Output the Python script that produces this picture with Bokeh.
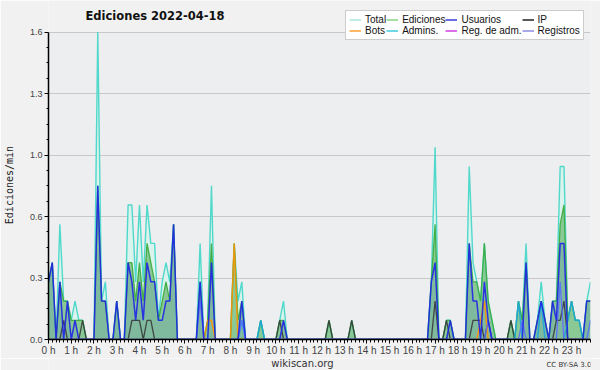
import math
from bokeh.plotting import figure
from bokeh.layouts import column
from bokeh.models import (ColumnDataSource, Range1d, FixedTicker, Legend, LegendItem,
                          Label, PrintfTickFormatter, BoxAnnotation)
from bokeh.embed import file_html
from bokeh.resources import INLINE

# ---------------- data (edits per minute, 10-minute bins, 2022-04-18) ----------------
title_text = "Ediciones  2022-04-18"
y_label = "Ediciones/min"
source_text = "wikiscan.org"
license_text = "CC BY-SA 3.0"
series_names = ["Total", "Ediciones", "Usuarios", "IP", "Bots", "Admins.", "Reg. de adm.", "Registros"]
hour_labels = ["0 h", "1 h", "2 h", "3 h", "4 h", "5 h", "6 h", "7 h", "8 h", "9 h", "10 h", "11 h",
               "12 h", "13 h", "14 h", "15 h", "16 h", "17 h", "18 h", "19 h", "20 h", "21 h", "22 h", "23 h"]
hour_ticks = list(range(24))
y_ticks = [0.0, 0.32, 0.64, 0.96, 1.28, 1.6]
y_minor = [0.08, 0.16, 0.24, 0.40, 0.48, 0.56, 0.72, 0.80, 0.88, 1.04, 1.12, 1.20, 1.36, 1.44, 1.52]
y_max = 1.6
bin_hours = [i / 6 for i in range(144)]  # start of each 10-minute bin, in hours

total = [
    .3, .4, 0, .6, .2, .2, .1, .2, .1, .1, 0, 0,
    0, 1.6, .2, .3, 0, 0, .2, 0, 0, .7, .7, .3,
    .7, .3, .7, .5, .5, .1, .3, .4, .3, .6, 0, 0,
    0, 0, 0, 0, .5, 0, .1, .8, 0, 0, 0, 0,
    0, .5, .2, .3, 0, 0, 0, 0, .1, 0, 0, 0,
    0, .1, .2, 0, 0, 0, 0, 0, 0, 0, 0, 0,
    0, 0, .1, 0, 0, 0, 0, 0, .1, 0, 0, 0,
    0, 0, 0, 0, 0, 0, 0, 0, 0, 0, 0, 0,
    0, 0, 0, 0, 0, .3, 1.0, 0, 0, .1, .1, 0,
    0, 0, 0, .9, .4, .3, .2, .5, .2, .1, 0, 0,
    0, 0, .1, 0, .2, .1, .5, 0, 0, .1, .3, .1,
    0, .2, .2, .9, .9, .1, .2, .1, .1, 0, .2, .3,
]
ediciones = [
    .3, .4, 0, .3, .2, .2, .1, .1, .1, .1, 0, 0,
    0, .8, .2, .2, 0, 0, .2, 0, 0, .4, .4, .2,
    .4, .2, .5, .4, .3, .1, .2, .3, .2, .6, 0, 0,
    0, 0, 0, 0, .3, 0, .1, .5, 0, 0, 0, 0,
    0, .5, .1, .2, 0, 0, 0, 0, .1, 0, 0, 0,
    0, .1, .1, 0, 0, 0, 0, 0, 0, 0, 0, 0,
    0, 0, .1, 0, 0, 0, 0, 0, .1, 0, 0, 0,
    0, 0, 0, 0, 0, 0, 0, 0, 0, 0, 0, 0,
    0, 0, 0, 0, 0, .3, .6, 0, 0, .1, .1, 0,
    0, 0, 0, .5, .3, .3, .2, .5, .2, .1, 0, 0,
    0, 0, .1, 0, .2, .1, .4, 0, 0, .1, .2, .1,
    0, .2, .2, .6, .7, .1, .2, .1, .1, 0, .2, .2,
]
usuarios = [
    .3, .4, 0, .3, 0, .2, 0, .1, 0, 0, 0, 0,
    0, .8, .2, .2, 0, 0, .2, 0, 0, .4, .3, .1,
    .3, .1, .4, .3, .3, .1, .1, .2, .2, .6, 0, 0,
    0, 0, 0, 0, .3, 0, 0, .4, 0, 0, 0, 0,
    0, 0, 0, .2, 0, 0, 0, 0, 0, 0, 0, 0,
    0, 0, .1, 0, 0, 0, 0, 0, 0, 0, 0, 0,
    0, 0, 0, 0, 0, 0, 0, 0, 0, 0, 0, 0,
    0, 0, 0, 0, 0, 0, 0, 0, 0, 0, 0, 0,
    0, 0, 0, 0, 0, .3, .4, 0, 0, 0, .1, 0,
    0, 0, 0, .5, .2, .2, 0, .3, .1, 0, 0, 0,
    0, 0, 0, 0, 0, 0, .4, 0, 0, .1, .2, .1,
    0, .2, .1, .5, .5, 0, 0, 0, 0, 0, .2, .2,
]
ip = [
    0, 0, 0, 0, .1, 0, 0, 0, 0, .1, 0, 0,
    0, 0, 0, 0, 0, 0, 0, 0, 0, 0, .1, .1,
    .1, 0, .1, .1, 0, 0, 0, 0, 0, 0, 0, 0,
    0, 0, 0, 0, 0, 0, 0, 0, 0, 0, 0, 0,
    0, 0, 0, 0, 0, 0, 0, 0, 0, 0, 0, 0,
    0, .1, 0, 0, 0, 0, 0, 0, 0, 0, 0, 0,
    0, 0, .1, 0, 0, 0, 0, 0, .1, 0, 0, 0,
    0, 0, 0, 0, 0, 0, 0, 0, 0, 0, 0, 0,
    0, 0, 0, 0, 0, 0, .2, 0, 0, .1, 0, 0,
    0, 0, 0, 0, .1, .1, .1, 0, .1, 0, 0, 0,
    0, 0, .1, 0, 0, 0, 0, 0, 0, 0, 0, 0,
    0, 0, .1, .1, .2, 0, 0, 0, 0, 0, 0, 0,
]
bots = [
    0, 0, 0, 0, 0, 0, 0, 0, 0, 0, 0, 0,
    0, 0, 0, 0, 0, 0, 0, 0, 0, 0, 0, 0,
    0, 0, 0, 0, 0, 0, 0, 0, 0, 0, 0, 0,
    0, 0, 0, 0, 0, 0, .1, .1, 0, 0, 0, 0,
    0, .5, 0, 0, 0, 0, 0, 0, 0, 0, 0, 0,
    0, 0, 0, 0, 0, 0, 0, 0, 0, 0, 0, 0,
    0, 0, 0, 0, 0, 0, 0, 0, 0, 0, 0, 0,
    0, 0, 0, 0, 0, 0, 0, 0, 0, 0, 0, 0,
    0, 0, 0, 0, 0, 0, 0, 0, 0, 0, 0, 0,
    0, 0, 0, 0, 0, 0, .1, .2, 0, 0, 0, 0,
    0, 0, 0, 0, 0, 0, 0, 0, 0, 0, 0, 0,
    0, 0, 0, 0, 0, 0, 0, 0, 0, 0, 0, 0,
]
admins = [
    0, 0, 0, 0, 0, 0, 0, 0, 0, 0, 0, 0,
    0, 0, 0, 0, 0, 0, 0, 0, 0, 0, 0, 0,
    0, 0, 0, 0, 0, 0, 0, 0, 0, 0, 0, 0,
    0, 0, 0, 0, 0, 0, 0, 0, 0, 0, 0, 0,
    0, 0, 0, .1, 0, 0, 0, 0, .1, 0, 0, 0,
    0, 0, 0, 0, 0, 0, 0, 0, 0, 0, 0, 0,
    0, 0, 0, 0, 0, 0, 0, 0, 0, 0, 0, 0,
    0, 0, 0, 0, 0, 0, 0, 0, 0, 0, 0, 0,
    0, 0, 0, 0, 0, 0, 0, 0, 0, 0, 0, 0,
    0, 0, 0, 0, 0, 0, 0, 0, 0, 0, 0, 0,
    0, 0, 0, 0, .2, 0, 0, 0, 0, 0, .2, 0,
    0, 0, 0, 0, 0, .1, .2, .1, .1, 0, 0, 0,
]
reg_adm = [0] * 144
registros = [
    0, 0, 0, 0, 0, 0, 0, 0, 0, 0, 0, 0,
    0, 0, 0, 0, 0, 0, 0, 0, 0, 0, 0, 0,
    0, 0, 0, 0, 0, 0, 0, 0, 0, 0, 0, 0,
    0, 0, 0, 0, .2, 0, 0, 0, 0, 0, 0, 0,
    0, 0, 0, .1, 0, 0, 0, 0, 0, 0, 0, 0,
    0, 0, 0, 0, 0, 0, 0, 0, 0, 0, 0, 0,
    0, 0, 0, 0, 0, 0, 0, 0, 0, 0, 0, 0,
    0, 0, 0, 0, 0, 0, 0, 0, 0, 0, 0, 0,
    0, 0, 0, 0, 0, 0, 0, 0, 0, 0, 0, 0,
    0, 0, 0, 0, 0, 0, 0, 0, .1, 0, 0, 0,
    0, 0, 0, 0, 0, .1, 0, 0, 0, 0, 0, 0,
    0, 0, 0, .3, 0, 0, 0, 0, 0, 0, 0, .1,
]

# ---------------- styling ----------------
line_colors = {
    "Total": "#3fd6c6", "Ediciones": "#3aaa3a", "Usuarios": "#1e22e8", "IP": "#3a3a3a",
    "Bots": "#ff9400", "Admins.": "#1ea6dc", "Reg. de adm.": "#d040d8", "Registros": "#5a6cff",
}
legend_colors = {
    "Total": "#aee8e0", "Ediciones": "#86d486", "Usuarios": "#3c3cd8", "IP": "#202020",
    "Bots": "#ffa030", "Admins.": "#40c8e0", "Reg. de adm.": "#d040e0", "Registros": "#8c8ce8",
}
OUTER = "#f1f1f1"
PLOT_BG = "#eceef0"

src = ColumnDataSource(dict(x=bin_hours, total=total, ediciones=ediciones, usuarios=usuarios,
                            ip=ip, bots=bots, admins=admins, reg_adm=reg_adm, registros=registros))

# frame: x 46..590, y 0..344 (value 1.6 sits at y=32, leaving room for title + legend)
FRAME_H = 344
TOP_PAD = 32
p = figure(width=600, height=358, output_backend="svg", toolbar_location=None, title=None,
           x_range=Range1d(0, bin_hours[-1]),
           y_range=Range1d(0, y_max * FRAME_H / (FRAME_H - TOP_PAD)),
           min_border_left=46, min_border_right=10, min_border_top=0, min_border_bottom=14)
p.border_fill_color = OUTER
p.background_fill_color = OUTER
p.outline_line_color = None
p.add_layout(BoxAnnotation(bottom=0, top=y_max, fill_color=PLOT_BG, fill_alpha=1.0,
                           line_color=None, level="image"))

# axes
p.yaxis.ticker = FixedTicker(ticks=y_ticks, minor_ticks=y_minor)
p.yaxis.formatter = PrintfTickFormatter(format="%.1f")
p.yaxis.bounds = (0, y_max)
p.xaxis.ticker = FixedTicker(ticks=hour_ticks, minor_ticks=bin_hours)
p.xaxis.major_label_overrides = dict(zip(hour_ticks, hour_labels))
for ax in (p.xaxis[0], p.yaxis[0]):
    ax.axis_line_color = "black"
    ax.axis_line_width = 1.5
    ax.major_tick_line_color = "black"
    ax.minor_tick_line_color = "black"
    ax.major_tick_in = 0
    ax.minor_tick_in = 0
    ax.major_tick_out = 4
    ax.minor_tick_out = 3
    ax.major_label_text_font = "Liberation Sans"
    ax.major_label_text_color = "#444444"
    ax.major_label_standoff = 1
p.xaxis.major_label_text_font_size = "10px"
p.yaxis.major_label_text_font_size = "9px"
p.yaxis.major_label_standoff = 2
p.yaxis.minor_tick_out = 2
# the axis label is centred on the whole frame (0..344 px); trailing no-break spaces move the
# visible words down so that they centre on the 0..1.6 part, as in the original
p.yaxis.axis_label = y_label + "\u00a0" * 5
p.yaxis.axis_label_text_font = "DejaVu Sans Mono"
p.yaxis.axis_label_text_font_size = "10px"
p.yaxis.axis_label_text_font_style = "normal"
p.yaxis.axis_label_text_color = "#222222"
p.yaxis.axis_label_standoff = 12

p.xgrid.visible = False
p.ygrid.grid_line_color = "#c8c8c8"
p.ygrid.grid_line_width = 1

# areas
p.varea(x="x", y1=0, y2="total", source=src, fill_color="#daf3ed", fill_alpha=1.0)
p.varea(x="x", y1=0, y2="ediciones", source=src, fill_color="#86c690", fill_alpha=0.95)
p.varea(x="x", y1=0, y2="usuarios", source=src, fill_color="#2a3cff", fill_alpha=0.10)

# lines
for col, name, w in [("total", "Total", 1.4), ("ediciones", "Ediciones", 1.3),
                     ("ip", "IP", 1.3), ("bots", "Bots", 1.5), ("admins", "Admins.", 1.5),
                     ("reg_adm", "Reg. de adm.", 1.2), ("registros", "Registros", 1.3),
                     ("usuarios", "Usuarios", 1.5)]:
    p.line(x="x", y=col, source=src, line_color=line_colors[name], line_width=w, line_alpha=0.9)

# title (inside the frame's top strip)
p.add_layout(Label(x=37, y=FRAME_H - 20, x_units="screen", y_units="screen", text=title_text,
                   text_align="left", text_baseline="middle", text_font="DejaVu Sans",
                   text_font_size="11.5px", text_font_style="bold", text_color="#111111"))

# legend (swatch-only renderers, nothing drawn); items listed column by column
swatch = {}
for name in series_names:
    swatch[name] = p.line(x=[math.nan], y=[math.nan], line_color=legend_colors[name], line_width=1.5)
legend_order = ["Total", "Bots", "Ediciones", "Admins.", "Usuarios", "Reg. de adm.", "IP", "Registros"]
legend = Legend(items=[LegendItem(label=n, renderers=[swatch[n]]) for n in legend_order],
                ncols=4, location=(297, FRAME_H - 45))
legend.border_line_color = "#999999"
legend.border_line_width = 1
legend.background_fill_color = "white"
legend.background_fill_alpha = 1.0
legend.label_text_font = "Liberation Sans"
legend.label_text_font_size = "10px"
legend.label_text_color = "#111111"
legend.label_height = 9
legend.glyph_height = 9
legend.glyph_width = 12
legend.label_standoff = 4
legend.spacing = 0
legend.padding = 3
legend.margin = 0
p.add_layout(legend)

# footer strip with the source and licence (its frame is aligned with the main frame: 46..590)
foot = figure(width=600, height=12, output_backend="svg", toolbar_location=None, title=None,
              x_range=Range1d(0, 544), y_range=Range1d(0, 12),
              x_axis_location=None, y_axis_location=None,
              min_border_left=46, min_border_right=10, min_border_top=0, min_border_bottom=0)
foot.border_fill_color = OUTER
foot.background_fill_color = OUTER
foot.outline_line_color = None
foot.grid.visible = False
foot.add_layout(Label(x=254, y=7, x_units="screen", y_units="screen", text=source_text,
                      text_align="center", text_baseline="middle", text_font="DejaVu Sans",
                      text_font_size="10px", text_color="#333333"))
foot.add_layout(Label(x=543, y=6, x_units="screen", y_units="screen", text=license_text,
                      text_align="right", text_baseline="middle", text_font="DejaVu Sans",
                      text_font_size="7px", text_color="#333333"))

layout = column(p, foot, spacing=0)
open("out.html", "w").write(file_html(layout, INLINE))
